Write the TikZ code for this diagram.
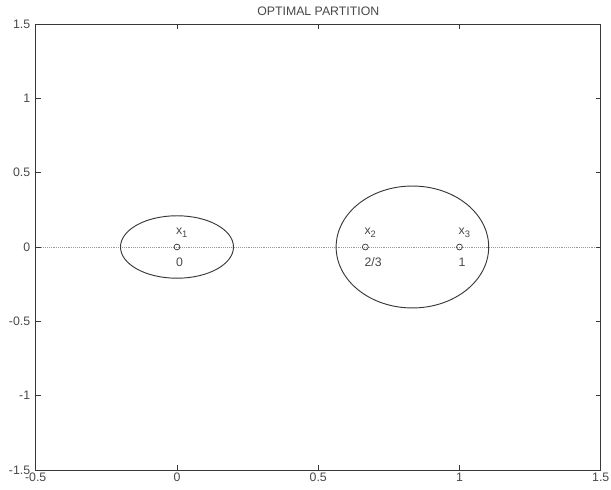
\documentclass[tikz,border=0pt]{standalone}
\usepackage{fontspec}
\setmainfont{Liberation Sans}
\usepackage{tikz}
\definecolor{axisgray}{gray}{0.22}
\definecolor{textgray}{gray}{0.28}

\begin{document}
\begin{tikzpicture}[x=8.475cm, y=4.461cm,
    font=\fontsize{10.5}{12}\selectfont,
    every node/.style={text=textgray},
    ticklabel/.style={inner sep=0pt},
    pointmark/.style={draw=axisgray, circle, inner sep=0pt, minimum size=5pt, line width=0.6pt},
    pointlabel/.style={anchor=base west, inner sep=0pt}]
    \useasboundingbox (-0.6265,-1.6275) rectangle (1.5363,1.661);
    % zero line
    \draw[gray!80, densely dotted, line width=0.6pt] (-0.5,0) -- (1.5,0);
    % axes
    \draw[axisgray, line width=0.7pt] (-0.5,-1.5) rectangle (1.5,1.5);
    \foreach \x/\t in {-0.5/-0.5, 0/0, 0.5/0.5, 1/1, 1.5/1.5} {
        \draw[axisgray, line width=0.5pt] (\x,-1.5) -- ++(0,0.034);
        \draw[axisgray, line width=0.5pt] (\x,1.5) -- ++(0,-0.034);
        \node[ticklabel, anchor=north] (xt\t) at (\x,-1.52) {\t};
    }
    \foreach \y/\t in {-1.5/-1.5, -1/-1, -0.5/-0.5, 0/0, 0.5/0.5, 1/1, 1.5/1.5} {
        \draw[axisgray, line width=0.5pt] (-0.5,\y) -- ++(0.0177,0);
        \draw[axisgray, line width=0.5pt] (1.5,\y) -- ++(-0.0177,0);
        \node[ticklabel, anchor=east] (yt\t) at (-0.519,\y) {\t};
    }
    \node (title) at (0.5,1.587) {OPTIMAL PARTITION};

    % partition sets
    \draw[axisgray, line width=0.8pt] (0,0) ellipse [x radius=0.2, y radius=0.21];
    \draw[axisgray, line width=0.8pt] (5/6,0) ellipse [x radius=0.27, y radius=0.41];

    % points
    \node[pointmark] (p1) at (0,0) {};
    \node[pointmark] (p2) at (2/3,0) {};
    \node[pointmark] (p3) at (1,0) {};
    \node[pointlabel] (x1) at (-0.004,0.087) {x\raisebox{-0.55ex}{\footnotesize 1}};
    \node[pointlabel] (x2) at (0.663,0.087) {x\raisebox{-0.55ex}{\footnotesize 2}};
    \node[pointlabel] (x3) at (0.996,0.087) {x\raisebox{-0.55ex}{\footnotesize 3}};
    \node[pointlabel] (v1) at (-0.004,-0.128) {0};
    \node[pointlabel] (v2) at (0.663,-0.128) {2/3};
    \node[pointlabel] (v3) at (0.996,-0.128) {1};
\end{tikzpicture}
\end{document}
